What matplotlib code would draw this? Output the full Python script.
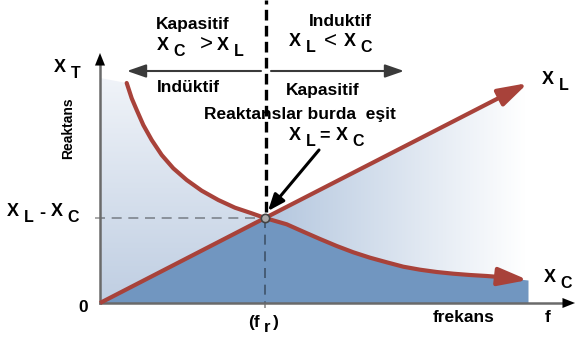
#!/usr/bin/env python3
"""Reactance vs frequency diagram: X_L, X_C and the resonance point f_r."""

import numpy as np
import matplotlib

matplotlib.use("Agg")
import matplotlib.pyplot as plt
from matplotlib.colors import to_rgb
from matplotlib.patches import Polygon

plt.rcParams["font.family"] = ["Liberation Sans", "DejaVu Sans"]
plt.rcParams["font.weight"] = "bold"

# data (f in px from origin, X in px above the axis)
f_res = 165.0
x_res = 85.0
f_xl = [0.0, 165.0, 428.0]
x_xl = [0.0, 85.0, 220.0]
f_xc = [26.7, 31.7, 36.7, 43.3, 51.7, 61.7, 73.3, 86.7, 101.7, 118.3, 135.0,
        151.7, 165.0, 186.7, 203.3, 220.0, 236.7, 253.3, 270.0, 286.7, 303.3,
        320.0, 336.7, 353.3, 370.0, 386.7, 403.3, 428.0]
x_xc = [220.0, 204.7, 193.0, 178.0, 163.0, 148.0, 134.7, 123.0, 112.3, 103.0,
        95.3, 89.7, 85.0, 78.7, 71.3, 64.0, 57.0, 50.7, 45.3, 40.7, 36.3,
        33.3, 31.0, 29.3, 28.0, 27.0, 25.7, 23.0]

RED = "#a8423a"
DARK = "#7196c0"

fig = plt.figure(figsize=(5.76, 3.38), dpi=100)
ax = fig.add_axes([0, 0, 1, 1])
ax.set_axis_off()

i_res = f_xc.index(f_res)

# light gradient area under the upper curve
low_f = [0.0] + f_xc[:i_res + 1] + f_xl[2:]
low_x = [225.0] + x_xc[:i_res + 1] + x_xl[2:]
light_poly = Polygon(
    [(0.0, 0.0)] + list(zip(low_f, low_x)) + [(f_xl[-1], 0.0)],
    closed=True, facecolor="none", edgecolor="none",
)
ax.add_patch(light_poly)

nx, ny = 430, 230
gx, gy = np.meshgrid(np.linspace(0, 430, nx), np.linspace(0, 230, ny))
c_bot = np.array(to_rgb("#bfcee2"))
c_top = np.array(to_rgb("#f1f4f9"))
c_res = np.array(to_rgb("#b3c6de"))
white = np.ones(3)
tv = np.clip(gy / 230.0, 0, 1)[..., None]
th = np.clip((gx - f_res) / (425.0 - f_res), 0, 1)[..., None]
left_img = c_bot * (1 - tv) + c_top * tv
right_img = c_res * (1 - th) + white * th
img = np.where((gx < f_res)[..., None], left_img, right_img)
im = ax.imshow(img, extent=(0, 430, 0, 230), origin="lower", aspect="auto",
               zorder=1, interpolation="bilinear")
im.set_clip_path(light_poly)

# dark area under the lower curve
dark_f = f_xl[:2] + f_xc[i_res + 1:]
dark_x = x_xl[:2] + x_xc[i_res + 1:]
ax.fill_between(dark_f, dark_x, 0, color=DARK, lw=0, zorder=2)

# guide lines at resonance
ax.plot([-5, f_res], [x_res, x_res], color="black", alpha=0.4, lw=1.2,
        dashes=(6, 4), zorder=3)
ax.plot([f_res, f_res], [x_res, -5], color="black", alpha=0.45, lw=1.2,
        dashes=(6, 4), zorder=3)
ax.plot([f_res + 1, f_res + 1], [x_res + 6, 303], color="black", lw=2.4,
        dashes=(3.2, 1.6), zorder=3)

# axes with arrows
ax.plot([0, 0], [0, 238], color="#6a6a6a", lw=1.8, zorder=4)
ax.plot([0, 466], [0, 0], color="#6a6a6a", lw=1.8, zorder=4)
head = dict(arrowstyle="-|>,head_length=9,head_width=3.6", color="black",
            lw=0.01, shrinkA=0, shrinkB=0, mutation_scale=1)
ax.annotate("", xy=(0, 250), xytext=(0, 236), arrowprops=head, zorder=5)
ax.annotate("", xy=(475, 0), xytext=(462, 0), arrowprops=head, zorder=5)

# curves
ax.plot(f_xl[:2], x_xl[:2], color=RED, lw=3.0, solid_capstyle="butt", zorder=6)
ax.plot(f_xc[:-1], x_xc[:-1], color=RED, lw=3.0, solid_capstyle="round",
        solid_joinstyle="round", zorder=6)
red_head = dict(arrowstyle="-|>,head_length=18,head_width=5.5", color=RED,
                lw=3.0, shrinkA=0, shrinkB=0, mutation_scale=1,
                capstyle="butt")
ax.annotate("", xy=(f_xl[2], x_xl[2]), xytext=(f_xl[1], x_xl[1]),
            arrowprops=red_head, zorder=6)
ax.annotate("", xy=(f_xc[-1], x_xc[-1]), xytext=(f_xc[-2], x_xc[-2]),
            arrowprops=red_head, zorder=6)

ax.plot([f_res], [x_res], marker="o", ms=6, mfc="#a9a9a9", mec="#444444",
        mew=1.2, zorder=8)

# top region arrows
top_arrow = dict(arrowstyle="-|>,head_length=11.5,head_width=4",
                 color="#3a3a3a", lw=1.5, shrinkA=0, shrinkB=0,
                 mutation_scale=1)
ax.annotate("", xy=(27, 232), xytext=(161, 232), arrowprops=top_arrow, zorder=5)
ax.annotate("", xy=(304, 232), xytext=(171, 232), arrowprops=top_arrow, zorder=5)

# pointer to the resonance point
ax.annotate("", xy=(168, 92), xytext=(219, 153), zorder=9,
            arrowprops=dict(arrowstyle="-|>,head_length=10,head_width=4",
                            color="black", lw=2.2, shrinkA=0, shrinkB=0,
                            mutation_scale=1))


def xsym(x, y, sub, size=13, subsize=11.5, dx=16, dy=-6):
    ax.text(x, y, "X", fontsize=size, ha="center", va="center", zorder=10)
    ax.text(x + dx, y + dy, sub, fontsize=subsize, ha="center", va="center",
            zorder=10)


txt = dict(fontsize=12.5, ha="center", va="center", zorder=10)

ax.text(93, 278, "Kapasitif", **txt)
xsym(63, 257, "C")
ax.text(106, 259, ">", fontsize=16, ha="center", va="center",
        fontweight="normal", zorder=10)
xsym(123, 257, "L")

ax.text(240, 281, "Induktif", **txt)
xsym(195, 261, "L")
ax.text(230, 262, "<", fontsize=16, ha="center", va="center",
        fontweight="normal", zorder=10)
xsym(250, 261, "C")

ax.text(88, 215, "Indüktif", **txt)
ax.text(223, 213, "Kapasitif", **txt)
ax.text(200, 188, "Reaktanslar burda  eşit", **txt)
xsym(195, 168, "L")
ax.text(225, 167, "=", fontsize=13, ha="center", va="center", zorder=10)
xsym(242, 168, "C")

xsym(-40, 235, "T")
ax.text(-32, 175, "Reaktans", fontsize=10, rotation=90, ha="center",
        va="center", zorder=10)
xsym(-87, 91, "L")
ax.text(-58, 90, "-", fontsize=13, ha="center", va="center", zorder=10)
xsym(-43, 91, "C")

ax.text(-17, -4, "0", **txt)
ax.text(154, -19, "(f", **txt)
ax.text(167, -24, "r", fontsize=12, ha="center", va="center", zorder=10)
ax.text(176, -19, ")", **txt)
ax.text(364, -15, "frekans", **txt)
ax.text(448, -15, "f", **txt)

xsym(448, 223, "L")
xsym(450, 26, "C")

ax.set_xlim(-100, 476)
ax.set_ylim(-35, 303)

fig.savefig("out.png", dpi=100)
